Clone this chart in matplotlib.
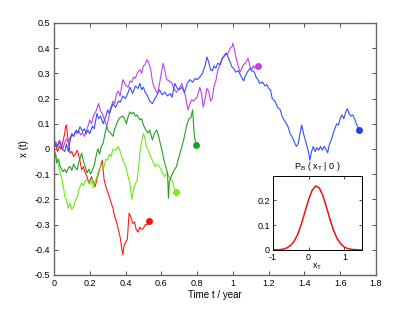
import matplotlib
matplotlib.use('Agg')
import matplotlib.pyplot as plt
from matplotlib.ticker import FuncFormatter

plt.rcParams['font.family'] = ['Liberation Sans', 'DejaVu Sans']
plt.rcParams['font.size'] = 6.5

# sample paths: (time, value)
t_blue = [0, 0.01, 0.02, 0.03, 0.045, 0.06, 0.07, 0.08, 0.09, 0.10, 0.11, 0.125, 0.135, 0.145, 0.16, 0.17,
          0.18, 0.19, 0.20, 0.215, 0.225, 0.24, 0.25, 0.26, 0.275, 0.29, 0.30, 0.31, 0.32, 0.33, 0.345, 0.36,
          0.37, 0.385, 0.40, 0.415, 0.425, 0.44, 0.455, 0.47, 0.48, 0.49, 0.50, 0.51, 0.52, 0.535, 0.55,
          0.565, 0.58, 0.59, 0.605, 0.62, 0.635, 0.65, 0.66, 0.675, 0.69, 0.70, 0.715, 0.73, 0.745, 0.76,
          0.775, 0.79, 0.80, 0.815, 0.83, 0.845, 0.855, 0.865, 0.875, 0.885, 0.895, 0.905, 0.915, 0.93,
          0.94, 0.955, 0.965, 0.975, 0.985, 0.995, 1.005, 1.015, 1.03, 1.045, 1.06, 1.07, 1.085, 1.095,
          1.105, 1.12, 1.13, 1.14, 1.15, 1.165, 1.18, 1.19, 1.2, 1.21, 1.22, 1.235, 1.25, 1.265, 1.275,
          1.29, 1.30, 1.31, 1.32, 1.33, 1.345, 1.355, 1.365, 1.375, 1.385, 1.395, 1.405, 1.415, 1.425,
          1.43, 1.44, 1.45, 1.46, 1.47, 1.48, 1.49, 1.5, 1.51, 1.52, 1.53, 1.54, 1.55, 1.56, 1.57, 1.58,
          1.59, 1.60, 1.61, 1.62, 1.63, 1.64, 1.65, 1.66, 1.67, 1.68, 1.69, 1.705]
x_blue = [0, 0.02, 0.01, 0.03, 0.0, -0.01, 0.02, -0.01, 0.03, 0.06, 0.05, 0.075, 0.065, 0.088, 0.07, 0.08,
          0.06, 0.075, 0.06, 0.09, 0.08, 0.14, 0.12, 0.13, 0.10, 0.13, 0.155, 0.14, 0.16, 0.18, 0.165, 0.19,
          0.185, 0.21, 0.20, 0.225, 0.245, 0.22, 0.25, 0.24, 0.26, 0.235, 0.245, 0.225, 0.215, 0.19, 0.18,
          0.2, 0.22, 0.235, 0.215, 0.225, 0.21, 0.22, 0.205, 0.26, 0.24, 0.235, 0.245, 0.225, 0.26, 0.275,
          0.265, 0.28, 0.275, 0.285, 0.30, 0.33, 0.365, 0.345, 0.315, 0.31, 0.33, 0.32, 0.34, 0.335,
          0.36, 0.37, 0.38, 0.36, 0.345, 0.325, 0.32, 0.305, 0.31, 0.29, 0.27, 0.29, 0.31, 0.32,
          0.31, 0.305, 0.285, 0.275, 0.26, 0.265, 0.25, 0.255, 0.24, 0.235, 0.2, 0.19, 0.165, 0.155, 0.13,
          0.11, 0.10, 0.085, 0.06, 0.05, 0.025, 0.01, 0.02, 0.06, 0.095, 0.06, 0.035, 0.01, -0.02,
          -0.045, -0.01, 0.01, -0.01, 0.005, -0.005, 0.01, -0.005, 0.01, 0.0, -0.015, 0.02, 0.035, 0.06,
          0.08, 0.10, 0.095, 0.12, 0.135, 0.12, 0.145, 0.16, 0.14, 0.13, 0.135, 0.12, 0.10, 0.075]

t_purple = [0, 0.01, 0.02, 0.03, 0.04, 0.05, 0.06, 0.07, 0.08, 0.09, 0.10, 0.11, 0.12, 0.13, 0.14, 0.15,
            0.16, 0.17, 0.18, 0.19, 0.20, 0.21, 0.22, 0.235, 0.25, 0.26, 0.27, 0.28, 0.295, 0.305, 0.315,
            0.33, 0.34, 0.35, 0.36, 0.37, 0.385, 0.395, 0.405, 0.415, 0.425, 0.435, 0.445, 0.455, 0.465,
            0.48, 0.49, 0.50, 0.51, 0.52, 0.53, 0.54, 0.55, 0.56, 0.57, 0.58, 0.59, 0.60, 0.61, 0.62, 0.63,
            0.645, 0.66, 0.67, 0.685, 0.70, 0.715, 0.725, 0.735, 0.745, 0.75, 0.76, 0.77, 0.78, 0.80, 0.815,
            0.825, 0.835, 0.845, 0.855, 0.865, 0.875, 0.885, 0.895, 0.905, 0.915, 0.925, 0.94, 0.95, 0.96,
            0.97, 0.985, 0.995, 1.0, 1.01, 1.02, 1.03, 1.04, 1.05, 1.06, 1.07, 1.085, 1.095, 1.105, 1.115,
            1.12, 1.13, 1.14]
x_purple = [0, 0.03, 0.01, 0.035, 0.02, 0.0, 0.025, 0.04, 0.025, 0.045, 0.06, 0.05, 0.07, 0.06, 0.07, 0.055,
            0.065, 0.05, 0.07, 0.09, 0.115, 0.10, 0.13, 0.15, 0.18, 0.15, 0.14, 0.12, 0.09, 0.12, 0.16,
            0.19, 0.18, 0.22, 0.23, 0.21, 0.275, 0.26, 0.25, 0.245, 0.27, 0.265, 0.285, 0.28, 0.30,
            0.315, 0.30, 0.33, 0.335, 0.355, 0.34, 0.32, 0.27, 0.245, 0.23, 0.22, 0.26, 0.30, 0.34, 0.31, 0.275,
            0.27, 0.26, 0.24, 0.225, 0.24, 0.26, 0.23, 0.21, 0.17, 0.155, 0.18, 0.195, 0.19, 0.205, 0.245,
            0.22, 0.165, 0.2, 0.24, 0.23, 0.19, 0.2, 0.25, 0.27, 0.31, 0.33, 0.355, 0.37, 0.38,
            0.375, 0.40, 0.405, 0.42, 0.39, 0.355, 0.33, 0.305, 0.32, 0.335, 0.34, 0.36, 0.33, 0.315, 0.33,
            0.32, 0.33, 0.33]

t_dgreen = [0, 0.01, 0.015, 0.025, 0.035, 0.05, 0.06, 0.07, 0.08, 0.09, 0.10, 0.11, 0.12, 0.13, 0.14, 0.155,
            0.165, 0.175, 0.185, 0.195, 0.205, 0.215, 0.225, 0.235, 0.245, 0.255, 0.265, 0.275, 0.285, 0.295,
            0.305, 0.315, 0.33, 0.34, 0.35, 0.36, 0.37, 0.385, 0.395, 0.405, 0.415, 0.425, 0.435, 0.445,
            0.455, 0.465, 0.48, 0.49, 0.50, 0.51, 0.525, 0.535, 0.55, 0.56, 0.575, 0.585, 0.595, 0.605, 0.615,
            0.625, 0.635, 0.64, 0.645, 0.655, 0.665, 0.675, 0.685, 0.695, 0.705, 0.715, 0.725, 0.735, 0.745,
            0.755, 0.765, 0.775, 0.78, 0.785, 0.795]
x_dgreen = [0, -0.03, -0.055, -0.04, -0.07, -0.09, -0.08, -0.095, -0.075, -0.07, -0.085, -0.06, -0.075, -0.083,
            -0.05, -0.017, -0.05, -0.07, -0.095, -0.08, -0.1, -0.083, -0.065, -0.03, 0.0, -0.02, 0.01, 0.023,
            0.06, 0.09, 0.07, 0.065, 0.05, 0.08, 0.1, 0.115, 0.125, 0.13, 0.12, 0.10, 0.13, 0.147, 0.14, 0.145,
            0.13, 0.135, 0.115, 0.12, 0.095, 0.08, 0.063, 0.075, 0.036, 0.06, 0.075, 0.05, 0.02, -0.01, -0.045,
            -0.07, -0.095, -0.195, -0.13, -0.11, -0.095, -0.08, -0.07, -0.04, -0.017, 0.01, 0.036, 0.07, 0.10,
            0.12, 0.123, 0.155, 0.1, 0.05, 0.015]

t_lgreen = [0, 0.01, 0.02, 0.035, 0.045, 0.055, 0.06, 0.07, 0.08, 0.09, 0.10, 0.11, 0.12, 0.13, 0.14, 0.155,
            0.165, 0.175, 0.185, 0.195, 0.205, 0.215, 0.22, 0.23, 0.24, 0.25, 0.26, 0.27, 0.28, 0.29, 0.30,
            0.31, 0.32, 0.33, 0.345, 0.36, 0.37, 0.385, 0.395, 0.405, 0.415, 0.425, 0.435, 0.445, 0.455,
            0.465, 0.475, 0.48, 0.49, 0.50, 0.51, 0.515, 0.525, 0.535, 0.55, 0.565, 0.575, 0.585, 0.60, 0.61,
            0.62, 0.63, 0.64, 0.65, 0.66, 0.67, 0.68]
x_lgreen = [0, -0.02, -0.05, -0.095, -0.12, -0.16, -0.19, -0.2, -0.235, -0.215, -0.24, -0.23, -0.205, -0.19,
            -0.16, -0.135, -0.145, -0.125, -0.123, -0.135, -0.14, -0.12, -0.155, -0.13, -0.11, -0.085, -0.07,
            -0.06, -0.07, -0.04, -0.045, -0.02, -0.03, 0.0, -0.005, 0.01, -0.01, -0.045, -0.06, -0.08, -0.11,
            -0.14, -0.2, -0.16, -0.14, -0.123, -0.06, -0.017, 0.03, 0.06, 0.04, 0.01, 0.0, -0.02, -0.045,
            -0.07, -0.06, -0.065, -0.083, -0.1, -0.11, -0.095, -0.105, -0.12, -0.123, -0.15, -0.17]

t_red = [0, 0.01, 0.02, 0.03, 0.04, 0.05, 0.06, 0.065, 0.07, 0.075, 0.08, 0.085, 0.09, 0.10, 0.11, 0.12, 0.13,
         0.14, 0.145, 0.155, 0.165, 0.175, 0.185, 0.195, 0.205, 0.21, 0.22, 0.23, 0.24, 0.25, 0.26, 0.27,
         0.28, 0.29, 0.30, 0.31, 0.32, 0.33, 0.34, 0.35, 0.36, 0.37, 0.38, 0.385, 0.39, 0.40, 0.41, 0.42,
         0.43, 0.44, 0.45, 0.46, 0.47, 0.48, 0.49, 0.50, 0.51, 0.52, 0.53]
x_red = [0, 0.02, -0.01, 0.01, 0.0, 0.03, 0.06, 0.09, 0.095, 0.06, 0.03, 0.01, -0.017, -0.01, -0.03, -0.02,
         -0.005, -0.03, -0.045, -0.083, -0.07, -0.095, -0.11, -0.135, -0.12, -0.11, -0.13, -0.15, -0.12,
         -0.095, -0.07, -0.045, -0.12, -0.15, -0.17, -0.19, -0.215, -0.235, -0.27, -0.29, -0.32, -0.35,
         -0.40, -0.42, -0.39, -0.37, -0.36, -0.255, -0.27, -0.295, -0.29, -0.32, -0.33, -0.31, -0.32,
         -0.315, -0.30, -0.30, -0.286]

# distribution of x_T (inset)
xt = [-1.0, -0.9, -0.8, -0.7, -0.6, -0.5, -0.4, -0.3, -0.2, -0.1, 0.0, 0.1, 0.2, 0.3, 0.4, 0.5, 0.6,
      0.7, 0.8, 0.9, 1.0, 1.1, 1.2, 1.3, 1.4, 1.5]
pb = [0.0, 0.0, 0.001, 0.003, 0.008, 0.018, 0.035, 0.063, 0.104, 0.153, 0.202, 0.241, 0.259, 0.251,
      0.220, 0.173, 0.123, 0.078, 0.045, 0.024, 0.011, 0.005, 0.002, 0.001, 0.0, 0.0]

paths = [
    (t_red, x_red, '#ff1a1a', '#f01414'),
    (t_lgreen, x_lgreen, '#66ee11', '#77ee11'),
    (t_dgreen, x_dgreen, '#22a022', '#1fa01f'),
    (t_purple, x_purple, '#bb44ee', '#c040e8'),
    (t_blue, x_blue, '#3050ff', '#2040f0'),
]

fmt = FuncFormatter(lambda v, p: '%g' % round(v, 3))

fig = plt.figure(figsize=(4.15, 3.10), dpi=100)
ax = fig.add_axes([0.130, 0.113, 0.776, 0.813])

for t, x, c, dc in paths:
    ax.plot(t, x, color=c, lw=0.8)
    ax.plot(t[-1], x[-1], 'o', color=dc, ms=5, mec='none')

ax.set_xlim(0, 1.8)
ax.set_ylim(-0.5, 0.5)
ax.set_xticks([0, 0.2, 0.4, 0.6, 0.8, 1.0, 1.2, 1.4, 1.6, 1.8])
ax.set_yticks([-0.5, -0.4, -0.3, -0.2, -0.1, 0, 0.1, 0.2, 0.3, 0.4, 0.5])
ax.xaxis.set_major_formatter(fmt)
ax.yaxis.set_major_formatter(fmt)
ax.tick_params(direction='in', top=True, right=True, length=3, width=0.6, labelsize=6.5, pad=3,
               color='#333333')
for s in ax.spines.values():
    s.set_color('#666666')
    s.set_linewidth(1.0)
ax.set_xlabel('Time t / year', fontsize=7, labelpad=1)
ax.set_ylabel('x (t)', fontsize=7, labelpad=4)

ax.text(1.47, -0.045, r'P$_\mathregular{B}$ ( x$_\mathregular{T}$ | 0 )', fontsize=6.5,
        ha='center', va='top')

ins = fig.add_axes([0.657, 0.194, 0.216, 0.239])
ins.plot(xt, pb, color='#ee1111', lw=1.1)
ins.set_xlim(-1, 1.5)
ins.set_ylim(0, 0.3)
ins.set_xticks([-1, 0, 1])
ins.set_yticks([0, 0.1, 0.2])
ins.xaxis.set_major_formatter(fmt)
ins.yaxis.set_major_formatter(fmt)
ins.tick_params(direction='in', top=True, right=True, length=2, width=0.5, labelsize=6.5, pad=2)
for s in ins.spines.values():
    s.set_linewidth(0.7)
ins.set_xlabel(r'x$_\mathregular{T}$', fontsize=6.5, labelpad=0)

fig.savefig('out.png', dpi=100)
